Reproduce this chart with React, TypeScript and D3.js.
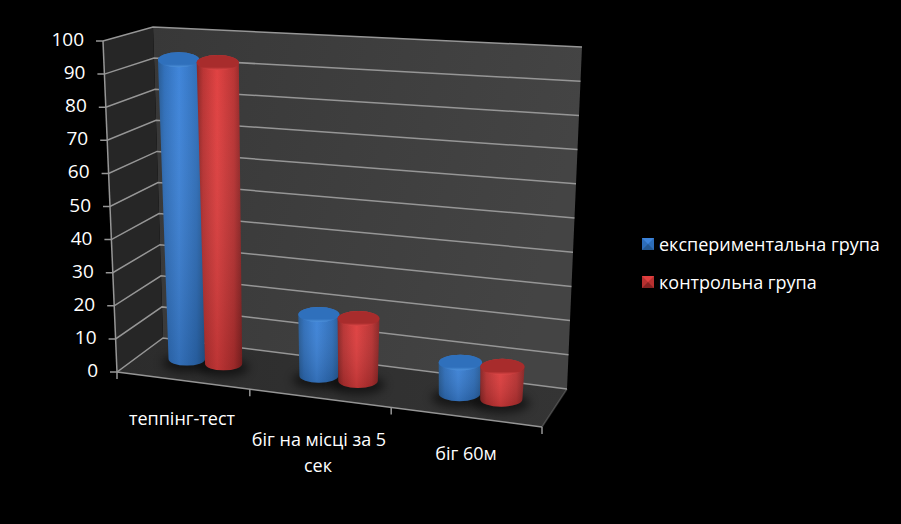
import React from "react";
import * as d3 from "d3";

const categories = ["теппінг-тест", "біг на місці за 5 сек", "біг 60м"];
const seriesNames = ["експериментальна група", "контрольна група"];
const experimental = [92.5, 18.4, 9.1];
const control = [92.3, 18.5, 9.3];
const seriesValues = [experimental, control];
const valueTicks = d3.range(0, 101, 10);
const seriesTones = [
  { edge: "#245892", mid: "#3c83d9", side: "#2d6db9", top: "#2f70bc", rim: "#4f93dc" },
  { edge: "#862222", mid: "#e03e3e", side: "#b83030", top: "#a82c2c", rim: "#de4848" },
];

const W = 901;
const H = 524;
type P = [number, number];
const FLB: P = [117, 372];
const BLB: P = [163, 338];
const FRB: P = [542, 427];
const BRB: P = [567, 389];
const FLT: P = [103, 41];
const BLT: P = [153, 27];
const BRT: P = [582, 47];
const FRT: P = [559, 63];

const mix = (a: P, b: P, t: number): P => [
  d3.interpolateNumber(a[0], b[0])(t),
  d3.interpolateNumber(a[1], b[1])(t),
];
const perspective = (u: number) => u / (u + (1 - u) * 1.1);
const hScale = d3.scaleLinear().domain([0, 100]).range([0, 1]);

// u along categories, v into depth, h up
function project(u: number, v: number, value: number): P {
  const h = hScale(value);
  const w = perspective(u);
  const bottom = mix(mix(FLB, FRB, w), mix(BLB, BRB, w), v);
  const top = mix(mix(FLT, FRT, w), mix(BLT, BRT, w), v);
  return mix(bottom, top, h);
}
const poly = (pts: P[]) => "M" + pts.map((p) => p.join(",")).join("L") + "Z";
const line = (a: P, b: P) => `M${a[0]},${a[1]}L${b[0]},${b[1]}`;

const xCat = d3.scaleBand<string>().domain(categories).range([0, 1]);
const xSeries = d3.scaleBand<string>().domain(seriesNames).range([-0.097, 0.093]);
const depth = 0.55;
const font = '"Open Sans", "Noto Sans", sans-serif';
const grid = "#969696";

function cylinder(ci: number, si: number) {
  const value = seriesValues[si][ci];
  const u = xCat(categories[ci])! + xCat.bandwidth() / 2 + xSeries(seriesNames[si])! + xSeries.bandwidth() / 2;
  const half = xSeries.bandwidth() / 2;
  const b = project(u, depth, 0);
  const t = project(u, depth, value);
  const baseR = (project(u + half, depth, 0)[0] - project(u - half, depth, 0)[0]) / 2;
  const rb = baseR;
  const rt = baseR * (1 + 0.1 * hScale(value)) + 0.8;
  return { b, t, rb, rt, ryb: rb * 0.36, ryt: rt * 0.36 };
}

export default function App() {
  return (
    <svg
      width={W}
      height={H}
      viewBox={`0 0 ${W} ${H}`}
      style={{ position: "absolute", left: 0, top: 0, display: "block", background: "#000" }}
    >
      <defs>
        <linearGradient id="backWall" x1="0" y1="0" x2="1" y2="0.2">
          <stop offset="0" stopColor="#383838" />
          <stop offset="1" stopColor="#444444" />
        </linearGradient>
        <linearGradient id="floorFill" x1="0" y1="0" x2="1" y2="0">
          <stop offset="0" stopColor="#2c2c2c" />
          <stop offset="1" stopColor="#343434" />
        </linearGradient>
        <filter id="blur" x="-50%" y="-100%" width="200%" height="300%">
          <feGaussianBlur stdDeviation="5" />
        </filter>
        <linearGradient id="shade" x1="0" y1="0" x2="0" y2="1">
          <stop offset="0" stopColor="#fff" stopOpacity="0.02" />
          <stop offset="1" stopColor="#000" stopOpacity="0.16" />
        </linearGradient>
        {seriesTones.map((c, i) => (
          <g key={i}>
            <linearGradient id={`body${i}`} x1="0" y1="0" x2="1" y2="0">
              <stop offset="0" stopColor={c.edge} />
              <stop offset="0.14" stopColor={c.side} />
              <stop offset="0.45" stopColor={c.mid} />
              <stop offset="0.82" stopColor={c.side} />
              <stop offset="1" stopColor={c.edge} />
            </linearGradient>
            <linearGradient id={`cap${i}`} x1="0" y1="0" x2="0" y2="1">
              <stop offset="0" stopColor={c.top} />
              <stop offset="0.8" stopColor={c.top} />
              <stop offset="1" stopColor={c.rim} />
            </linearGradient>
          </g>
        ))}
      </defs>

      <path d={poly([BLB, BRB, BRT, BLT])} fill="url(#backWall)" />
      <path d={poly([FLB, BLB, BLT, FLT])} fill="#262626" />
      <path d={poly([FLB, FRB, BRB, BLB])} fill="url(#floorFill)" />

      <g stroke={grid} strokeWidth={1.5} fill="none">
        {valueTicks.map((v) => {
          const a = project(0, 0, v);
          const b = project(0, 1, v);
          const c = project(1, 1, v);
          const tick: P = [a[0] - 7, a[1]];
          return <path key={v} d={`M${tick[0]},${tick[1]}L${a[0]},${a[1]}L${b[0]},${b[1]}L${c[0]},${c[1]}`} />;
        })}
        <path d={line(project(0, 0, 0), project(0, 0, 100))} />
        <path d={line(project(0, 0, 0), project(1, 0, 0))} />
        <path d={line(project(1, 0, 0), project(1, 1, 0))} strokeOpacity={0.35} />
        {[0, 1, 2, 3].map((i) => {
          const a = project(i / 3, 0, 0);
          return <path key={i} d={line(a, [a[0], a[1] + 7])} />;
        })}
      </g>

      <g fill="#fff" fontFamily={font} fontSize={19} textAnchor="end">
        {valueTicks.map((v) => {
          const a = project(0, 0, v);
          return (
            <text key={v} x={a[0] - 19} y={a[1] + 5}>
              {v}
            </text>
          );
        })}
      </g>

      {categories.map((_, ci) =>
        seriesNames.map((_, si) => {
          const g = cylinder(ci, si);
          return (
            <ellipse
              key={`${ci}-${si}`}
              cx={g.b[0]}
              cy={g.b[1] + 4}
              rx={g.rb * 1.35}
              ry={g.ryb * 1.35}
              fill="#000"
              opacity={0.55}
              filter="url(#blur)"
            />
          );
        })
      )}

      {categories.map((_, ci) =>
        seriesNames.map((_, si) => {
          const g = cylinder(ci, si);
          const body =
            `M${g.t[0] - g.rt},${g.t[1]}L${g.b[0] - g.rb},${g.b[1]}` +
            `A${g.rb},${g.ryb} 0 0 0 ${g.b[0] + g.rb},${g.b[1]}` +
            `L${g.t[0] + g.rt},${g.t[1]}` +
            `A${g.rt},${g.ryt} 0 0 0 ${g.t[0] - g.rt},${g.t[1]}Z`;
          return (
            <g key={`${ci}-${si}`}>
              <path d={body} fill={`url(#body${si})`} />
              <path d={body} fill="url(#shade)" />
              <ellipse cx={g.t[0]} cy={g.t[1]} rx={g.rt} ry={g.ryt} fill={`url(#cap${si})`} />
            </g>
          );
        })
      )}

      <g fill="#fff" fontFamily={font} fontSize={18} textAnchor="middle">
        <text x={182} y={425}>{categories[0]}</text>
        <text x={319} y={446}>біг на місці за 5</text>
        <text x={318} y={472}>сек</text>
        <text x={466} y={460}>{categories[2]}</text>
      </g>

      {seriesNames.map((name, i) => {
        const x = 642;
        const y = 238 + i * 38;
        const s = 12;
        const c = seriesTones[i];
        return (
          <g key={name}>
            <rect x={x} y={y} width={s} height={s} fill={c.side} />
            <path d={poly([[x, y], [x + s, y], [x + s / 2, y + s / 2]])} fill={c.mid} />
            <path d={poly([[x, y + s], [x + s, y + s], [x + s / 2, y + s / 2]])} fill={c.edge} />
            <text x={659} y={y + 13} fill="#fff" fontFamily={font} fontSize={18}>
              {name}
            </text>
          </g>
        );
      })}
    </svg>
  );
}
